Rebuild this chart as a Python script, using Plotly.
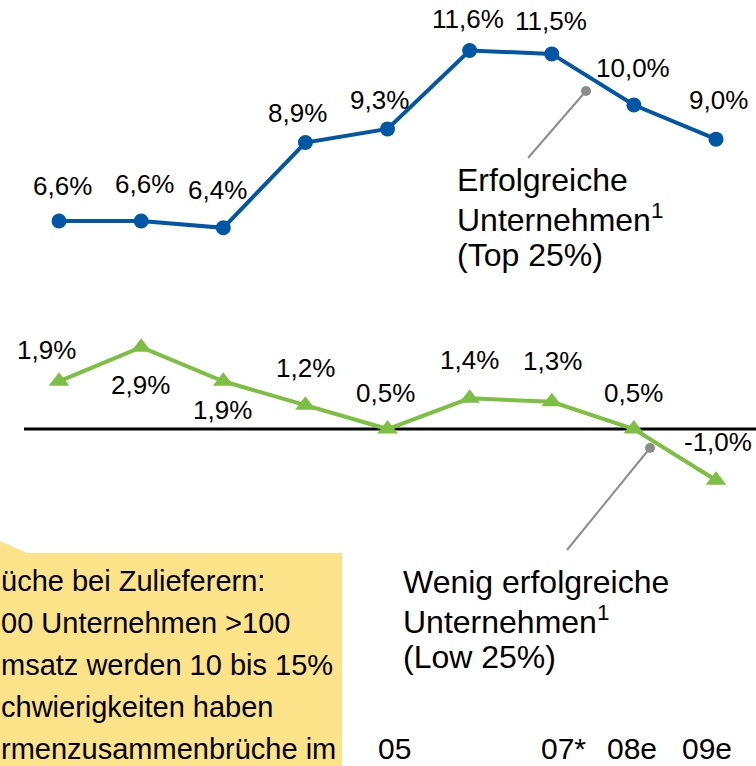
import plotly.graph_objects as go

W, H = 756, 766

# ---- data ----
periods = list(range(9))
top25 = [6.6, 6.6, 6.4, 8.9, 9.3, 11.6, 11.5, 10.0, 9.0]
low25 = [1.9, 2.9, 1.9, 1.2, 0.5, 1.4, 1.3, 0.5, -1.0]
tick_idx = [4, 6, 7, 8]
tick_labels = ["05", "07*", "08e", "09e"]
baseline_value = 0.5
top_label = ["Erfolgreiche", "Unternehmen<sup>1</sup>", "(Top 25%)"]
low_label = ["Wenig erfolgreiche", "Unternehmen<sup>1</sup>", "(Low 25%)"]
note_lines = ["üche bei Zulieferern:", "00 Unternehmen >100", "msatz werden 10 bis 15%",
              "chwierigkeiten haben", "rmenzusammenbrüche im"]

# ---- styles ----
FONT = "Liberation Sans, Arial, sans-serif"
BLUE = "#0156A6"
GREEN = "#7CBF42"
GREY = "#8C8C8C"
YELLOW = "#FCE289"
X_RANGE = [-0.719, 8.487]
Y_RANGE = [-9.38, 13.08]
top_off = [(3, -35), (3, -37), (-6, -38), (-8, -30), (-8, -29), (-2, -31), (-1, -33), (-1, -37), (2, -39)]
low_off = [(-13, -31), (-1, 38), (-1, 29), (0, -37), (-2, -36), (0, -38), (1, -41), (0, -36), (2, -38)]
tick_shift = [7, 12, -2, -9]


def fmt(v):
    return f"{v:.1f}%".replace(".", ",")


def px(x):
    return x / W


def py(y):
    return 1 - y / H


fig = go.Figure()
fig.add_trace(go.Scatter(x=periods, y=top25, mode="lines+markers",
                         line=dict(color=BLUE, width=4),
                         marker=dict(size=15, color=BLUE), hoverinfo="skip"))
fig.add_trace(go.Scatter(x=periods, y=low25, mode="lines+markers",
                         line=dict(color=GREEN, width=4),
                         marker=dict(symbol="triangle-up", size=18, color=GREEN), hoverinfo="skip"))

annotations = []
for i, v in enumerate(top25):
    dx, dy = top_off[i]
    annotations.append(dict(x=i, y=v, xref="x", yref="y", text=fmt(v), showarrow=False,
                            xanchor="center", yanchor="middle",
                            xshift=dx, yshift=-dy, font=dict(size=26, color="black", family=FONT)))
for i, v in enumerate(low25):
    dx, dy = low_off[i]
    annotations.append(dict(x=i, y=v, xref="x", yref="y", text=fmt(v), showarrow=False,
                            xanchor="center", yanchor="middle",
                            xshift=dx, yshift=-dy, font=dict(size=26, color="black", family=FONT)))
for k, (i, t) in enumerate(zip(tick_idx, tick_labels)):
    annotations.append(dict(x=i, y=py(748), xref="x", yref="paper", text=t, showarrow=False,
                            xanchor="center", yanchor="middle",
                            xshift=tick_shift[k], font=dict(size=30, color="black", family=FONT)))
for k, t in enumerate(top_label):
    annotations.append(dict(x=px(455), y=py(180 + 37.5 * k), xref="paper", yref="paper", text=t,
                            showarrow=False, xanchor="left", yanchor="middle",
                            font=dict(size=32, color="black", family=FONT)))
for k, t in enumerate(low_label):
    annotations.append(dict(x=px(401), y=py(582 + 37.5 * k), xref="paper", yref="paper", text=t,
                            showarrow=False, xanchor="left", yanchor="middle",
                            font=dict(size=32, color="black", family=FONT)))
for k, t in enumerate(note_lines):
    annotations.append(dict(x=px(-1), y=py(581 + 42 * k), xref="paper", yref="paper", text=t,
                            showarrow=False, xanchor="left", yanchor="middle",
                            font=dict(size=29, color="black", family=FONT)))

shapes = [
    dict(type="line", xref="paper", yref="y", x0=px(24), x1=1, y0=baseline_value, y1=baseline_value,
         line=dict(color="black", width=3), layer="below"),
    dict(type="line", xref="paper", yref="paper", x0=px(528), y0=py(158), x1=px(586), y1=py(91),
         line=dict(color=GREY, width=2)),
    dict(type="circle", xref="paper", yref="paper", x0=px(581), x1=px(591), y0=py(86), y1=py(96),
         fillcolor=GREY, line=dict(width=0)),
    dict(type="line", xref="paper", yref="paper", x0=px(567), y0=py(550), x1=px(650), y1=py(448),
         line=dict(color=GREY, width=2)),
    dict(type="circle", xref="paper", yref="paper", x0=px(645), x1=px(655), y0=py(443), y1=py(453),
         fillcolor=GREY, line=dict(width=0)),
    dict(type="rect", xref="paper", yref="paper", x0=0, x1=px(342), y0=0, y1=py(553),
         fillcolor=YELLOW, line=dict(width=0), layer="above"),
    dict(type="path", xref="paper", yref="paper",
         path=f"M 0 {py(541)} L {px(27)} {py(553)} L 0 {py(553)} Z",
         fillcolor=YELLOW, line=dict(width=0), layer="above"),
]

fig.update_layout(
    width=W, height=H,
    margin=dict(l=0, r=0, t=0, b=0),
    paper_bgcolor="white", plot_bgcolor="white",
    showlegend=False,
    xaxis=dict(range=X_RANGE, visible=False, fixedrange=True),
    yaxis=dict(range=Y_RANGE, visible=False, fixedrange=True),
    annotations=annotations,
    shapes=shapes,
)

fig.write_html("out.html", config={"displayModeBar": False},
               post_script="document.body.style.margin='0';document.body.style.overflow='hidden';")
